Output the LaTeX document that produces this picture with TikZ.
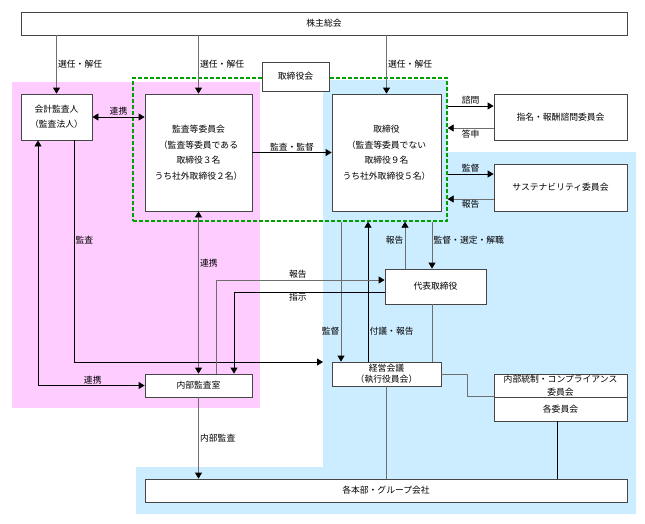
\documentclass[tikz,border=0pt]{standalone}
\usepackage{fontspec}
\setmainfont{Noto Sans CJK JP}
\usetikzlibrary{arrows.meta}
\definecolor{pinkbg}{RGB}{255,204,255}
\definecolor{bluebg}{RGB}{204,236,255}
\definecolor{greendash}{RGB}{0,160,0}
\definecolor{lgray}{RGB}{110,110,110}
\definecolor{bgray}{RGB}{70,70,70}
\begin{document}
\begin{tikzpicture}[x=1pt,y=-1pt,
  box/.style={draw=bgray, line width=0.8pt, fill=white, inner sep=0pt, align=center, font=\fontsize{8.8}{15}\selectfont},
  lbl/.style={inner sep=1.2pt, font=\fontsize{8.8}{10}\selectfont},
  ar/.style={-{Triangle[length=6pt,width=7pt,color=black]}, line width=0.8pt},
  arB/.style={{Triangle[length=6pt,width=7pt,color=black]}-{Triangle[length=6pt,width=7pt,color=black]}, line width=0.8pt},
  ln/.style={line width=0.8pt},
  gl/.style={draw=lgray}
]
\useasboundingbox (0,0) rectangle (645,523);
% backgrounds
\fill[pinkbg] (12,82) rectangle (260,408);
\fill[bluebg] (323,80) -- (447,80) -- (447,152) -- (636,152) -- (636,514) -- (136,514) -- (136,467) -- (323,467) -- cycle;
% board dashed frame
\node[draw=greendash, dash pattern=on 4pt off 2pt, line width=1.3pt, minimum width=314pt, minimum height=143pt, inner sep=0pt] (board) at (290,149.5) {};
\node[box, minimum width=67pt, minimum height=29pt] (bl) at (295.5,76.5) {取締役会};
% nodes
\node[box, minimum width=606pt, minimum height=23pt] (kabu) at (324,23.5) {株主総会};
\node[box, minimum width=71pt, minimum height=46pt] (kaikei) at (56.5,117) {会計監査人\\（監査法人）};
\node[box, minimum width=107pt, minimum height=117pt, font=\fontsize{8.8}{15.5}\selectfont] (kansa) at (198.5,152.5) {監査等委員会\\（監査等委員である\\取締役３名\\うち社外取締役２名）};
\node[box, minimum width=109pt, minimum height=117pt, font=\fontsize{8.8}{15.5}\selectfont] (tori) at (386.5,152.5) {取締役\\（監査等委員でない\\取締役９名\\うち社外取締役５名）};
\node[box, minimum width=133pt, minimum height=46pt] (shimei) at (560.5,117) {指名・報酬諮問委員会};
\node[box, minimum width=133pt, minimum height=47pt] (sus) at (560.5,187.5) {サステナビリティ委員会};
\node[box, minimum width=101pt, minimum height=35pt] (daihyo) at (435.5,286.5) {代表取締役};
\node[box, minimum width=109pt, minimum height=24pt, font=\fontsize{8.8}{11}\selectfont] (keiei) at (386.5,374) {経営会議\\（執行役員会）};
\node[box, minimum width=133pt, minimum height=23pt, font=\fontsize{8.8}{13}\selectfont] (naibu) at (560.5,385.5) {内部統制・コンプライアンス\\委員会};
\node[box, minimum width=133pt, minimum height=24pt] (kakuiin) at (560.5,409) {各委員会};
\node[box, minimum width=107pt, minimum height=23pt] (shitsu) at (198.5,385.5) {内部監査室};
\node[box, minimum width=482pt, minimum height=23pt] (honbu) at (386,490.5) {各本部・グループ会社};
% connectors from shareholders
\draw[ar, gl] (kabu.south -| kaikei.north) -- (kaikei.north) node[lbl, midway, right] (l1) {選任・解任};
\draw[ar, gl] (kabu.south -| kansa.north) -- (kansa.north) node[lbl, midway, right] (l2) {選任・解任};
\draw[ar, gl] (kabu.south -| tori.north) -- (tori.north) node[lbl, midway, right] (l3) {選任・解任};
% upper horizontal
\draw[arB] (kaikei.east) -- (kansa.west |- kaikei.east) node[lbl, midway, above] (l4) {連携};
\draw[ar] (kansa.east) -- (tori.west) node[lbl, midway, above] (l5) {監査・監督};
\draw[ar] (board.east |- 0,106) -- (shimei.west |- 0,106) node[lbl, midway, above] (l6) {諮問};
\draw[ar, gl] (shimei.west |- 0,128) -- (board.east |- 0,128) node[lbl, midway, below] (l7) {答申};
\draw[ar] (board.east |- 0,174) -- (sus.west |- 0,174) node[lbl, midway, above] (l8) {監督};
\draw[ar, gl] (sus.west |- 0,199) -- (board.east |- 0,199) node[lbl, midway, below] (l9) {報告};
% audit committee - internal audit
\draw[arB, gl] (kansa.south) -- (shitsu.north) node[lbl, pos=0.32, right] (l10) {連携};
% below board
\draw[ar, gl] (board.south -| 341,0) -- (keiei.north -| 341,0) node[lbl, pos=0.78, left] (l11) {監督};
\draw[ar] (keiei.north -| 368,0) -- (board.south -| 368,0) node[lbl, pos=0.22, right] (l12) {付議・報告};
\draw[ar, gl] (daihyo.north -| 405,0) -- (board.south -| 405,0) node[lbl, pos=0.6, left] (l13) {報告};
\draw[ar, gl] (board.south -| 432,0) -- (daihyo.north -| 432,0) node[lbl, pos=0.4, right] (l14) {監督・選定・解職};
\draw[ln, gl] (daihyo.south -| 432,0) -- (keiei.north -| 432,0);
% external auditor audit line
\coordinate (kend) at (323,362);
\draw[ar] (kaikei.south -| 74,0) |- (kend) node[lbl, pos=0.225, right] (l15) {監査};
\draw[arB] (shitsu.west) -| (kaikei.south -| 38,0) node[lbl, pos=0.243, above] (l16) {連携};
\draw[ar, gl] (shitsu.south) -- (shitsu.south |- honbu.north) node[lbl, midway, right] (l17) {内部監査};
% internal audit <-> representative director
\draw[ar, gl] (shitsu.north -| 216,0) |- (daihyo.west |- 0,280) node[lbl, pos=0.743, above] (l18) {報告};
\draw[ar] (daihyo.west |- 0,292) -| (shitsu.north -| 234,0) node[lbl, pos=0.288, below] (l19) {指示};
% management meeting connections
\draw[ln, gl] (keiei.east) -- (keiei.east -| 467,0) |- (kakuiin.north west);
\draw[ln, gl] (keiei.south) -- (keiei.south |- honbu.north);
\draw[ln] (kakuiin.south -| 557,0) -- (honbu.north -| 557,0);
\end{tikzpicture}
\end{document}
